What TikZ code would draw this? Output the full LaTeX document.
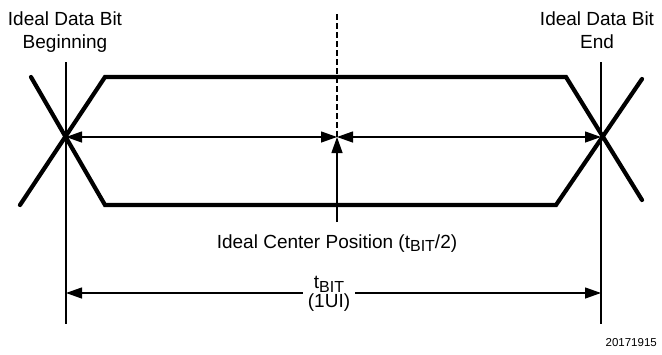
\documentclass[tikz,border=0pt]{standalone}
\usepackage{fontspec}
\setmainfont{Liberation Sans}
\usetikzlibrary{arrows.meta}
\newcommand{\mysub}[1]{\raisebox{-0.2em}{\fontsize{16}{16}\selectfont #1}}
\begin{document}
\begin{tikzpicture}[x=1pt,y=-1pt,
  trace/.style={line width=4.2pt,line cap=round,line join=miter},
  thin/.style={line width=1.3pt},
  tip/.style={-{Triangle[length=16pt,width=11pt]}},
  dim/.style={line width=1.3pt,{Triangle[length=16pt,width=11pt]}-{Triangle[length=16pt,width=11pt]}},
  lbl/.style={font=\fontsize{19}{23}\selectfont,inner sep=0pt,align=center},
]
\useasboundingbox (0,0) rectangle (662,354);
% key points
\coordinate (L) at (66,137);
\coordinate (R) at (601,137);
\coordinate (C) at (337,137);
\coordinate (Ltop) at (66,62);
\coordinate (Lbot) at (66,324);
\coordinate (Rtop) at (601,62);
\coordinate (Rbot) at (601,324);
\coordinate (Ctop) at (337,14);
\coordinate (Cbot) at (337,222);
\coordinate (BL) at (66,293);
\coordinate (BR) at (601,293);
% traces
\draw[trace] (31,77) -- (105,205) -- (556,205) -- (642,79);
\draw[trace] (20,205) -- (105,77) -- (566,77) -- (642,200);
% vertical reference lines
\draw[thin] (Ltop) -- (Lbot);
\draw[thin] (Rtop) -- (Rbot);
\draw[thin,dash pattern=on 6pt off 3pt] (Ctop) -- (C);
\draw[thin,tip] (Cbot) -- (C);
% half-bit arrows
\draw[dim] (L) -- (C);
\draw[dim] (C) -- (R);
% labels
\node[lbl,anchor=base] (lb) at (65,48) {Ideal Data Bit\\Beginning};
\node[lbl,anchor=base] (le) at (597,48) {Ideal Data Bit\\End};
\node[lbl,anchor=base] (cp) at (337,248) {Ideal Center Position (t\mysub{BIT}/2)};
\draw[dim] (BL) -- (BR);
\node[lbl,font=\fontsize{19}{18.5}\selectfont,fill=white,inner xsep=5pt,anchor=base] (tb) at (329,307) {t\mysub{BIT}\\(1UI)};
\node[font=\fontsize{11.5}{13}\selectfont,inner sep=0pt,anchor=base east] (id) at (657,346) {20171915};
\end{tikzpicture}
\end{document}
